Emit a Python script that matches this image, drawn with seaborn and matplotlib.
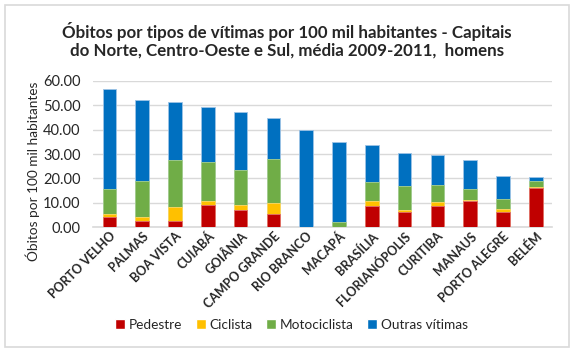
import pandas as pd
import matplotlib.pyplot as plt
import seaborn as sns
from matplotlib.patches import Patch, FancyBboxPatch

# values (per 100 mil habitantes)
cidades = ['PORTO VELHO', 'PALMAS', 'BOA VISTA', 'CUIABÁ', 'GOIÂNIA', 'CAMPO GRANDE',
           'RIO BRANCO', 'MACAPÁ', 'BRASÍLIA', 'FLORIANÓPOLIS', 'CURITIBA', 'MANAUS',
           'PORTO ALEGRE', 'BELÉM']
pedestre = [4.0, 2.5, 2.5, 9.1, 7.2, 5.4, 0.0, 0.0, 8.7, 6.2, 8.7, 10.8, 6.2, 15.9]
ciclista = [1.3, 1.5, 5.8, 1.5, 1.9, 4.3, 0.0, 0.0, 1.9, 0.7, 1.4, 0.5, 1.1, 0.5]
motociclista = [10.3, 15.0, 19.4, 16.0, 14.2, 18.4, 0.0, 1.9, 7.8, 9.9, 7.3, 4.3, 4.3, 2.6]
outras = [41.2, 33.0, 23.8, 22.5, 23.9, 16.6, 39.9, 33.0, 15.1, 13.6, 12.3, 12.1, 9.3, 1.6]

series = ['Pedestre', 'Ciclista', 'Motociclista', 'Outras vítimas']
cores = ['#C00000', '#FFC000', '#70AD47', '#0070C0']
bordas = ['#E07070', '#FFD966', '#A9D08E', '#9DC3E6']

df = pd.DataFrame({'cidade': cidades, 'Pedestre': pedestre, 'Ciclista': ciclista,
                   'Motociclista': motociclista, 'Outras vítimas': outras})
# cumulative sums so the bars can be drawn on top of each other
cum = df[series].cumsum(axis=1)
cum['cidade'] = df['cidade']

sns.set_style('white')
plt.rcParams['font.family'] = ['Lato', 'DejaVu Sans']

fig = plt.figure(figsize=(5.74, 3.52), dpi=100)
ax = fig.add_axes([0.162, 0.355, 0.800, 0.415])

# draw from the tallest stack down
for s, c, e in list(zip(series, cores, bordas))[::-1]:
    sns.barplot(data=cum, x='cidade', y=s, color=c, width=0.41, ax=ax,
                edgecolor=e, linewidth=0.6, saturation=1, zorder=3)

ax.set_ylim(0, 60)
ax.set_xlim(-0.5, len(cidades) - 0.5)
ax.set_yticks(range(0, 61, 10))
ax.set_yticklabels([f'{v:.2f}' for v in range(0, 61, 10)], fontsize=10.5)
ax.yaxis.grid(True, color='#D9D9D9', linewidth=1, zorder=0)
ax.set_axisbelow(True)
ax.tick_params(axis='y', length=0, pad=9)
ax.tick_params(axis='x', length=0, pad=2)
for sp in ['top', 'right', 'left']:
    ax.spines[sp].set_visible(False)
ax.spines['bottom'].set_color('#D9D9D9')
ax.spines['bottom'].set_linewidth(1.2)

ax.set_xticks(range(len(cidades)))
ax.set_xticklabels(cidades, rotation=45, ha='right', rotation_mode='anchor',
                   fontsize=9, fontweight='bold')
ax.set_xlabel('')
ax.set_ylabel('')
fig.text(33 / 574, 1 - 171 / 352, 'Óbitos por 100 mil habitantes', rotation=90,
         ha='center', va='center', fontsize=9.8)

fig.text(0.5, 0.886, 'Óbitos por tipos de vítimas por 100 mil habitantes - Capitais\n'
         'do Norte, Centro-Oeste e Sul, média 2009-2011,  homens',
         ha='center', va='center', fontsize=12.2, fontweight='bold', linespacing=1.15)

handles = [Patch(facecolor=c, label=s) for s, c in zip(series, cores)]
fig.legend(handles=handles, loc='center', bbox_to_anchor=(0.508, 0.077), ncol=4,
           frameon=False, fontsize=9.8, handlelength=0.75, handleheight=0.75,
           handletextpad=0.3, columnspacing=0.95)

# light frame around the chart area
fig.patches.append(FancyBboxPatch((0.009, 0.014), 0.982, 0.972, boxstyle='square,pad=0',
                                  transform=fig.transFigure, fill=False,
                                  edgecolor='#D9D9D9', linewidth=1.2))

fig.savefig('out.png', dpi=100)
